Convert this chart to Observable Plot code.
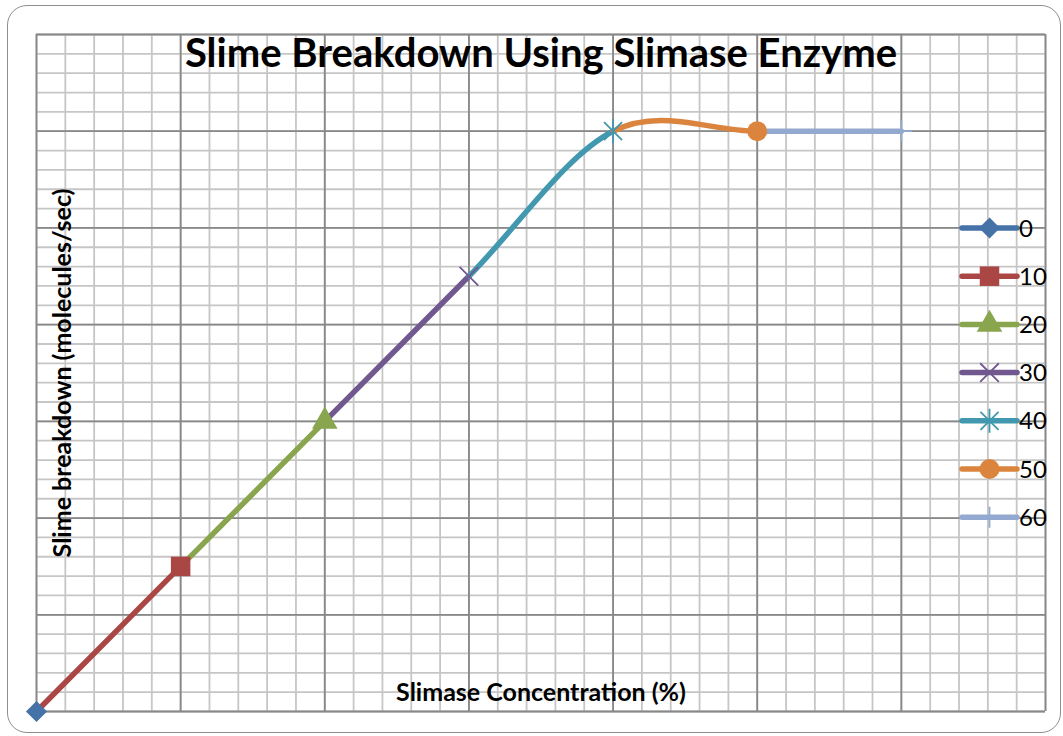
<!DOCTYPE html>
<html>
<head>
<meta charset="utf-8">
<script src="https://cdn.jsdelivr.net/npm/d3@7"></script>
<script src="https://cdn.jsdelivr.net/npm/@observablehq/plot@0.6"></script>
<style>
  html, body { margin: 0; padding: 0; background: #fff; }
  #wrap { position: relative; width: 1063px; height: 736px; overflow: hidden; }
  #border { position: absolute; left: 7px; top: 5px; width: 1054px; height: 728px;
            border: 1.6px solid #8e8e8e; border-radius: 20px; box-sizing: border-box; pointer-events: none; }
  #legend { position: absolute; left: 0; top: 0; pointer-events: none; }
</style>
</head>
<body>
<div id="wrap"><div id="chart"></div><div id="border"></div><svg id="legend" width="1063" height="736"></svg></div>
<script>
// ---- data ----
const seriesNames = ["0", "10", "20", "30", "40", "50", "60"];
const xValues = [0, 10, 20, 30, 40, 50, 60];
const yValues = [0, 15, 30, 45, 60, 60, 60];
const colors = ["#4572A7", "#AA4643", "#89A54E", "#71588F", "#4198AF", "#DB843D", "#93A9CF"];
const majorTicks = [0, 10, 20, 30, 40, 50, 60, 70];
const minorTicks = [0,2,4,6,8,10,12,14,16,18,20,22,24,26,28,30,32,34,36,38,40,42,44,46,48,50,52,54,56,58,60,62,64,66,68,70];
const title = "Slime Breakdown Using Slimase Enzyme";
const xLabel = "Slimase Concentration (%)";
const yLabel = "Slime breakdown (molecules/sec)";

// ---- custom symbols (Excel-like) ----
const starSym = { draw(ctx, size) { const r = Math.sqrt(size / Math.PI);
  ctx.moveTo(-r*0.75, -r*0.75); ctx.lineTo(r*0.75, r*0.75);
  ctx.moveTo(-r*0.75, r*0.75); ctx.lineTo(r*0.75, -r*0.75);
  ctx.moveTo(0, -r); ctx.lineTo(0, r); } };
const xSym = { draw(ctx, size) { const r = Math.sqrt(size / Math.PI) * 0.72;
  ctx.moveTo(-r, -r); ctx.lineTo(r, r); ctx.moveTo(-r, r); ctx.lineTo(r, -r); } };
const plusSym = { draw(ctx, size) { const r = Math.sqrt(size / Math.PI);
  ctx.moveTo(0, -r); ctx.lineTo(0, r); ctx.moveTo(-r, 0); ctx.lineTo(r, 0); } };
const markerDefs = [
  { type: d3.symbolDiamond2, r: 9.5, filled: true },
  { type: d3.symbolSquare, r: 11, filled: true },
  { type: d3.symbolTriangle, r: 9.5, filled: true },
  { type: xSym, r: 13, filled: false },
  { type: starSym, r: 12, filled: false },
  { type: d3.symbolCircle, r: 10, filled: true },
  { type: plusSym, r: 10.5, filled: false }
];

// ---- segments: series i joins point i-1 to point i, smoothed with neighbours ----
const n = xValues.length;
const segRows = [];
for (let i = 1; i < n; i++) {
  for (const k of [i - 2, i - 1, i, i + 1]) {
    const j = Math.max(0, Math.min(n - 1, k));
    segRows.push({ series: seriesNames[i], idx: i, x: xValues[j], y: yValues[j] });
  }
}
const points = seriesNames.map((s, i) => ({ series: s, idx: i, x: xValues[i], y: yValues[i] }));

// curve that draws only the middle (p1->p2) Catmull-Rom segment of 4 points
function midSegmentCurve(context) {
  let pts = [];
  return {
    areaStart() {}, areaEnd() {},
    lineStart() { pts = []; },
    point(x, y) { pts.push([+x, +y]); },
    lineEnd() {
      if (pts.length < 4) return;
      const [p0, p1, p2, p3] = pts;
      context.moveTo(p1[0], p1[1]);
      context.bezierCurveTo(
        p1[0] + (p2[0] - p0[0]) / 6, p1[1] + (p2[1] - p0[1]) / 6,
        p2[0] - (p3[0] - p1[0]) / 6, p2[1] - (p3[1] - p1[1]) / 6,
        p2[0], p2[1]);
    }
  };
}

const colorScale = { domain: seriesNames, range: colors };
const dotMarks = markerDefs.map((m, i) => Plot.dot(points.filter(p => p.idx === i), {
  x: "x", y: "y", symbol: () => m.type, r: m.r,
  fill: m.filled ? colors[i] : "none",
  stroke: m.filled ? "none" : colors[i],
  strokeWidth: m.filled ? 0 : 1.8
}));

const chart = Plot.plot({
  width: 1063, height: 736,
  marginLeft: 36, marginRight: 18, marginTop: 34, marginBottom: 25,
  style: { fontFamily: "Lato, 'Open Sans', sans-serif", background: "transparent", color: "#000" },
  x: { domain: [0, 70], axis: null },
  y: { domain: [0, 70], axis: null },
  symbol: { type: "identity" },
  color: colorScale,
  marks: [
    Plot.ruleX(minorTicks, { stroke: "#c6c6c6", strokeWidth: 1.8 }),
    Plot.ruleY(minorTicks, { stroke: "#c6c6c6", strokeWidth: 1.8 }),
    Plot.ruleX(majorTicks, { stroke: "#888888", strokeWidth: 1.8 }),
    Plot.ruleY(majorTicks, { stroke: "#888888", strokeWidth: 1.8 }),
    Plot.line(segRows, { x: "x", y: "y", z: "series", stroke: "series", strokeWidth: 5.5,
      strokeLinecap: "round", curve: midSegmentCurve }),
    ...dotMarks,
    Plot.text([title], { frameAnchor: "top", dy: 32, lineAnchor: "bottom", fontSize: 40, fontWeight: "bold", fill: "#000" }),
    Plot.text([xLabel], { frameAnchor: "bottom", dy: -11, lineAnchor: "bottom", fontSize: 25, fontWeight: "bold", fill: "#000" }),
    Plot.text([yLabel], { frameAnchor: "left", textAnchor: "middle", dx: 34, rotate: -90, lineAnchor: "bottom", fontSize: 25, fontWeight: "bold", fill: "#000" })
  ]
});
document.getElementById("chart").appendChild(chart);

// ---- legend (inside plot area, right side) ----
const leg = d3.select("#legend");
const legX0 = 962, legX1 = 1017, legY0 = 228, legStep = 48.2;
seriesNames.forEach((s, i) => {
  const y = legY0 + i * legStep;
  const g = leg.append("g");
  g.append("line").attr("x1", legX0).attr("x2", legX1).attr("y1", y).attr("y2", y)
    .attr("stroke", colors[i]).attr("stroke-width", 5.5).attr("stroke-linecap", "round");
  const m = markerDefs[i];
  g.append("path").attr("transform", `translate(${(legX0 + legX1) / 2},${y})`)
    .attr("d", d3.symbol().type(m.type).size(Math.PI * m.r * m.r)())
    .attr("fill", m.filled ? colors[i] : "none")
    .attr("stroke", m.filled ? "none" : colors[i])
    .attr("stroke-width", m.filled ? 0 : 1.8);
  g.append("text").attr("x", 1019).attr("y", y + 8.5).attr("font-family", "Lato, sans-serif")
    .attr("font-size", 24).attr("fill", "#000").text(s);
});
</script>
</body>
</html>
